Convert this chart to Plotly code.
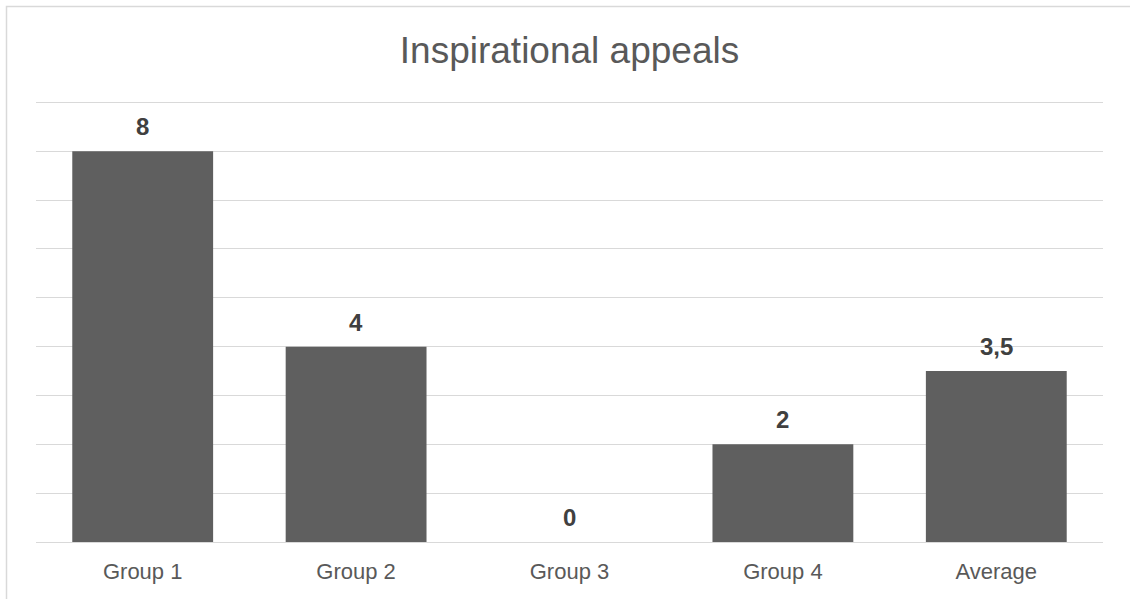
import plotly.graph_objects as go

# Chart data
categories = ["Group 1", "Group 2", "Group 3", "Group 4", "Average"]
values = [8, 4, 0, 2, 3.5]
title_text = "Inspirational appeals"

W, H = 1130, 599
L, R, T, B = 36, 27, 100, 57
plot_w = W - L - R
plot_h = H - T - B
Y_MAX = 9.05  # a little headroom so the top gridline at 9 is kept

FONT = "Liberation Sans, Arial, sans-serif"

def fmt(v):
    s = f"{v:g}"
    return s.replace(".", ",")

fig = go.Figure()
fig.add_trace(go.Bar(
    x=categories,
    y=values,
    marker=dict(color="#5f5f5f", line=dict(width=0)),
    width=0.66,
    hoverinfo="skip",
))

# Value labels above each bar
for c, v in zip(categories, values):
    fig.add_annotation(
        x=c, y=v, text=f"<b>{fmt(v)}</b>", showarrow=False,
        yanchor="bottom", yshift=9,
        font=dict(family=FONT, size=24, color="#404040"),
    )

# Outer chart border (continues past the right and bottom edges)
def px_x(px):
    return (px - L) / plot_w

def px_y(py):
    return 1 - (py - T) / plot_h

fig.add_shape(
    type="rect", xref="paper", yref="paper",
    x0=px_x(6.5), x1=px_x(W + 20), y0=px_y(H + 20), y1=px_y(6.5),
    line=dict(color="#d9d9d9", width=1.5), fillcolor="rgba(0,0,0,0)",
    layer="below",
)

fig.update_layout(
    width=W, height=H,
    margin=dict(l=L, r=R, t=T, b=B, pad=0),
    paper_bgcolor="white", plot_bgcolor="white",
    showlegend=False,
    title=dict(
        text=title_text, x=(L + plot_w / 2) / W, xanchor="center",
        y=1 - 50 / H, yanchor="middle",
        font=dict(family=FONT, size=37, color="#595959"),
    ),
    bargap=0.34,
    xaxis=dict(
        showgrid=False, showline=False, ticks="",
        tickfont=dict(family=FONT, size=22, color="#595959"),
        ticklabelstandoff=14,
        fixedrange=True,
    ),
    yaxis=dict(
        range=[0, Y_MAX], dtick=1, showticklabels=False,
        showgrid=True, gridcolor="#d9d9d9", gridwidth=1,
        zeroline=True, zerolinecolor="#d9d9d9", zerolinewidth=1,
        showline=False, ticks="", fixedrange=True,
    ),
)

fig.write_html("out.html", config={"displayModeBar": False})
